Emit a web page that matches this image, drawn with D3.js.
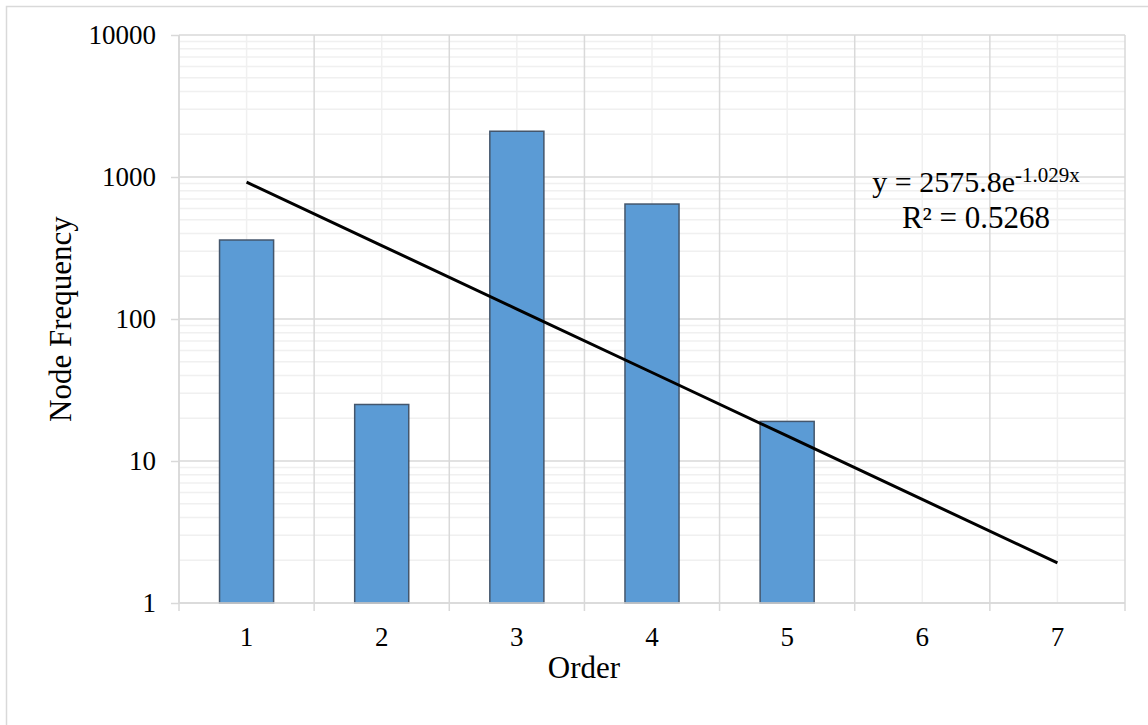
<!DOCTYPE html>
<html>
<head>
<meta charset="utf-8">
<script src="https://cdn.jsdelivr.net/npm/d3@7"></script>
<style>
    body { margin: 0; background: #fff; }
    svg text { font-family: "Liberation Serif", "Times New Roman", serif; fill: #000; }
</style>
</head>
<body>
<div id="chart"></div>
<script>
// chart data
var orders = [1, 2, 3, 4, 5, 6, 7];
var frequency = [360, 25, 2100, 645, 19, null, null];
var yTicks = [1, 10, 100, 1000, 10000];
// exponential trendline y = a * e^(b x)
var trendA = 2575.8;
var trendB = -1.029;
var trendX = [1, 7];
var trendLabel = "y = 2575.8e";
var trendExp = "-1.029x";
var r2Label = "R² = 0.5268";

var width = 1148, height = 725;
var padL = 179, padR = 1125, padT = 35, padB = 603;

var svg = d3.select("#chart")
    .append("svg")
    .attr("width", width)
    .attr("height", height);

// outer chart border (only top/left visible in the reference)
svg.append("rect")
    .attr("x", 6.5).attr("y", 6.5)
    .attr("width", 1160).attr("height", 740)
    .attr("fill", "none")
    .attr("stroke", "#d9d9d9")
    .attr("stroke-width", 1.5);

var x = d3.scaleBand()
    .domain(orders)
    .range([padL, padR])
    .paddingInner(0)
    .paddingOuter(0);

var y = d3.scaleLog()
    .domain([1, 10000])
    .range([padB, padT]);

// minor horizontal gridlines
var minor = [];
for (var dec = 1; dec < 10000; dec *= 10) {
    for (var k = 2; k <= 9; k++) minor.push(dec * k);
}
svg.append("g").selectAll("line")
    .data(minor).enter().append("line")
    .attr("x1", padL).attr("x2", padR)
    .attr("y1", d => y(d)).attr("y2", d => y(d))
    .attr("stroke", "#f0f0f0").attr("stroke-width", 1.5);

// minor vertical gridlines at category centres
svg.append("g").selectAll("line")
    .data(orders).enter().append("line")
    .attr("x1", d => x(d) + x.bandwidth() / 2).attr("x2", d => x(d) + x.bandwidth() / 2)
    .attr("y1", padT).attr("y2", padB)
    .attr("stroke", "#f0f0f0").attr("stroke-width", 1.5);

// major horizontal gridlines
svg.append("g").selectAll("line")
    .data(yTicks).enter().append("line")
    .attr("x1", padL).attr("x2", padR)
    .attr("y1", d => y(d)).attr("y2", d => y(d))
    .attr("stroke", "#d9d9d9").attr("stroke-width", 1.5);

// major vertical gridlines at category boundaries
var bounds = orders.map(d => x(d)).concat([padR]);
svg.append("g").selectAll("line")
    .data(bounds).enter().append("line")
    .attr("x1", d => d).attr("x2", d => d)
    .attr("y1", padT).attr("y2", padB)
    .attr("stroke", "#d9d9d9").attr("stroke-width", 1.5);

// bars
var barW = x.bandwidth() / 2.5;
svg.append("g").selectAll("rect")
    .data(orders.map((o, i) => [o, frequency[i]]).filter(d => d[1] != null))
    .enter().append("rect")
    .attr("x", d => x(d[0]) + (x.bandwidth() - barW) / 2)
    .attr("y", d => y(d[1]))
    .attr("width", barW)
    .attr("height", d => y(1) - y(d[1]))
    .attr("fill", "#5b9bd5")
    .attr("stroke", "#44566c")
    .attr("stroke-width", 1.5);

// y axis
var yAxis = d3.axisLeft(y)
    .tickValues(yTicks)
    .tickFormat(d3.format("d"))
    .tickSize(8)
    .tickPadding(15);
var gy = svg.append("g")
    .attr("transform", "translate(" + padL + ",0)")
    .call(yAxis);
gy.select(".domain").attr("stroke", "#d9d9d9").attr("stroke-width", 1.5).attr("d", "M0," + padT + "V" + padB);
gy.selectAll(".tick line").attr("stroke", "#d9d9d9").attr("stroke-width", 1.5);
gy.selectAll("text").style("font-size", "27px").attr("dy", "0.33em");

// x axis
var xAxis = d3.axisBottom(x).tickSize(0).tickPadding(24);
var gx = svg.append("g")
    .attr("transform", "translate(0," + padB + ")")
    .call(xAxis);
gx.select(".domain").attr("stroke", "#d9d9d9").attr("stroke-width", 1.5).attr("d", "M" + padL + ",0H" + padR);
gx.selectAll("text").style("font-size", "27px");
gx.selectAll(".bt").data(bounds).enter().append("line")
    .attr("x1", d => d).attr("x2", d => d)
    .attr("y1", 0).attr("y2", 8)
    .attr("stroke", "#d9d9d9").attr("stroke-width", 1.5);

// trendline
var cx = o => x(o) + x.bandwidth() / 2;
var xs = d3.scaleLinear().domain([1, 7]).range([cx(1), cx(7)]);
var trendPts = [];
for (var t = trendX[0]; t <= trendX[1]; t += 1) trendPts.push([t, trendA * Math.exp(trendB * t)]);
svg.append("path")
    .datum(trendPts)
    .attr("d", d3.line().x(d => xs(d[0])).y(d => y(d[1])))
    .attr("fill", "none")
    .attr("stroke", "#000")
    .attr("stroke-width", 3);

// trendline label
var eq = svg.append("text")
    .attr("x", 976).attr("y", 192)
    .attr("text-anchor", "middle")
    .style("font-size", "30px");
eq.append("tspan").text(trendLabel);
eq.append("tspan").text(trendExp).attr("dy", "-10").style("font-size", "21px");
svg.append("text")
    .attr("x", 976).attr("y", 228)
    .attr("text-anchor", "middle")
    .style("font-size", "31px")
    .text(r2Label);

// axis titles
svg.append("text")
    .attr("x", 584).attr("y", 678)
    .attr("text-anchor", "middle")
    .style("font-size", "31px")
    .text("Order");
svg.append("text")
    .attr("transform", "translate(71," + ((padT + padB) / 2) + ") rotate(-90)")
    .attr("text-anchor", "middle")
    .style("font-size", "31px")
    .text("Node Frequency");
</script>
</body>
</html>
